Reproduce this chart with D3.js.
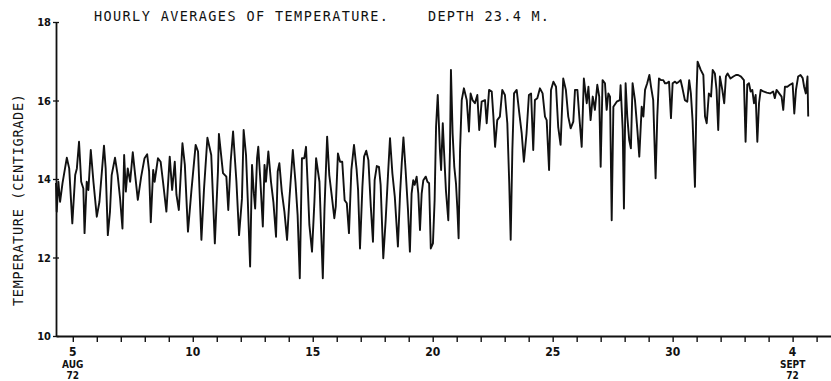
<!DOCTYPE html>
<html>
<head>
<meta charset="utf-8">
<script src="https://cdn.jsdelivr.net/npm/d3@7"></script>
<style>
  body { margin: 0; background: #fff; }
  svg text { fill: #111; }
</style>
</head>
<body>
<div id="chart"></div>
<script>
// time in days of August 1972 (Sept 4 = 35), hourly-average temperature in deg C
const hourDay = [
  4.30, 4.33, 4.40, 4.47, 4.57, 4.75, 4.85, 4.98, 5.10, 5.17, 5.26, 5.35, 5.44, 5.49, 5.58, 5.65,
  5.75, 5.86, 6.00, 6.11, 6.30, 6.37, 6.46, 6.55, 6.62, 6.76, 6.87, 6.97, 7.07, 7.14, 7.21, 7.29,
  7.39, 7.50, 7.60, 7.71, 7.85, 7.99, 8.10, 8.18, 8.25, 8.35, 8.41, 8.55, 8.66, 8.76, 8.90, 9.04,
  9.14, 9.25, 9.32, 9.42, 9.57, 9.67, 9.80, 9.94, 10.12, 10.22, 10.36, 10.47, 10.61, 10.77, 10.92, 11.05,
  11.09, 11.26, 11.40, 11.48, 11.58, 11.68, 11.82, 11.93, 12.05, 12.12, 12.22, 12.29, 12.39, 12.47, 12.54, 12.60,
  12.68, 12.73, 12.82, 12.92, 12.99, 13.05, 13.15, 13.26, 13.36, 13.47, 13.54, 13.61, 13.71, 13.82, 13.93, 14.03,
  14.17, 14.28, 14.37, 14.46, 14.55, 14.65, 14.72, 14.79, 14.86, 14.97, 15.07, 15.14, 15.28, 15.42, 15.49, 15.60,
  15.69, 15.79, 15.90, 15.96, 16.05, 16.14, 16.23, 16.33, 16.42, 16.51, 16.61, 16.72, 16.83, 16.89, 16.97, 17.07,
  17.14, 17.23, 17.32, 17.42, 17.51, 17.58, 17.67, 17.76, 17.83, 17.94, 18.04, 18.14, 18.22, 18.32, 18.42, 18.55,
  18.64, 18.71, 18.78, 18.87, 18.97, 19.05, 19.12, 19.19, 19.25, 19.33, 19.40, 19.47, 19.54, 19.61, 19.71, 19.78,
  19.85, 19.92, 20.01, 20.08, 20.14, 20.21, 20.30, 20.35, 20.42, 20.47, 20.55, 20.65, 20.72, 20.76, 20.83, 20.90,
  20.97, 21.03, 21.08, 21.14, 21.21, 21.30, 21.42, 21.51, 21.58, 21.66, 21.76, 21.86, 21.94, 22.04, 22.18, 22.25,
  22.35, 22.46, 22.53, 22.60, 22.69, 22.80, 22.90, 23.01, 23.11, 23.19, 23.25, 23.32, 23.39, 23.50, 23.61, 23.71,
  23.80, 23.91, 24.01, 24.10, 24.19, 24.26, 24.36, 24.47, 24.58, 24.68, 24.75, 24.85, 24.93, 25.03, 25.14, 25.23,
  25.33, 25.44, 25.55, 25.65, 25.75, 25.86, 25.93, 26.03, 26.11, 26.21, 26.30, 26.42, 26.49, 26.58, 26.67, 26.76,
  26.86, 26.94, 27.00, 27.08, 27.18, 27.25, 27.32, 27.39, 27.46, 27.53, 27.67, 27.80, 27.83, 27.92, 27.97, 28.04,
  28.11, 28.19, 28.26, 28.33, 28.43, 28.53, 28.61, 28.71, 28.78, 28.85, 28.94, 29.03, 29.10, 29.19, 29.29, 29.36,
  29.43, 29.51, 29.61, 29.68, 29.75, 29.85, 29.93, 30.00, 30.10, 30.17, 30.26, 30.33, 30.41, 30.51, 30.61, 30.69,
  30.76, 30.83, 30.93, 31.00, 31.04, 31.17, 31.28, 31.35, 31.42, 31.51, 31.60, 31.67, 31.76, 31.83, 31.90, 31.97,
  32.07, 32.15, 32.22, 32.29, 32.41, 32.53, 32.64, 32.73, 32.85, 32.97, 33.04, 33.11, 33.18, 33.25, 33.32, 33.39,
  33.46, 33.53, 33.60, 33.67, 33.78, 33.92, 34.06, 34.19, 34.26, 34.33, 34.44, 34.54, 34.61, 34.68, 34.78, 34.89,
  35.00, 35.07, 35.14, 35.23, 35.33, 35.42, 35.48, 35.55, 35.62, 35.65
];
const tempC = [
  13.90, 13.17, 13.93, 13.42, 13.89, 14.54, 14.27, 12.87, 14.10, 14.27, 14.95, 13.93, 13.76, 12.62, 13.93, 13.72,
  14.74, 13.93, 13.04, 13.42, 14.85, 14.27, 12.57, 13.17, 14.10, 14.54, 14.10, 13.51, 12.74, 14.61, 13.68, 14.27,
  13.93, 14.68, 14.10, 13.47, 14.06, 14.53, 14.63, 14.20, 12.90, 14.23, 13.93, 14.53, 14.44, 13.93, 13.17, 14.57,
  13.72, 14.44, 13.60, 13.21, 14.91, 14.36, 12.66, 13.68, 14.87, 14.70, 12.45, 13.76, 15.05, 14.61, 12.36, 14.20,
  15.15, 14.15, 14.06, 13.21, 14.44, 15.21, 13.93, 12.57, 13.50, 15.25, 14.61, 13.51, 11.77, 14.36, 13.68, 13.25,
  14.53, 14.82, 13.93, 12.79, 14.36, 13.93, 14.70, 13.93, 13.42, 12.53, 14.19, 14.40, 13.68, 13.17, 12.45, 13.51,
  14.74, 13.93, 13.08, 11.47, 14.53, 14.53, 14.82, 13.85, 12.83, 12.15, 13.42, 14.53, 13.93, 11.47, 13.25, 15.08,
  14.10, 13.59, 13.00, 13.30, 14.65, 14.44, 14.44, 13.46, 13.38, 12.62, 14.23, 14.87, 14.23, 13.72, 12.23, 13.80,
  14.57, 14.72, 14.48, 13.30, 12.40, 13.97, 14.33, 14.31, 13.85, 11.98, 12.96, 14.14, 15.04, 14.14, 13.55, 12.28,
  13.63, 14.40, 15.06, 14.23, 13.21, 12.15, 13.63, 13.97, 13.85, 14.06, 13.63, 12.70, 13.63, 13.97, 14.06, 13.93,
  13.89, 12.23, 12.36, 13.46, 15.33, 16.14, 14.74, 14.23, 15.42, 14.74, 13.72, 12.95, 14.74, 16.78, 15.16, 14.31,
  13.89, 13.21, 12.49, 14.74, 16.01, 16.31, 16.01, 15.21, 16.18, 16.01, 15.93, 16.14, 15.25, 15.97, 16.01, 15.42,
  16.27, 16.23, 15.59, 14.82, 15.50, 15.59, 16.27, 16.14, 15.42, 13.89, 12.45, 14.74, 16.18, 16.27, 15.67, 15.16,
  14.44, 15.16, 16.14, 16.18, 14.74, 16.01, 16.06, 16.31, 16.18, 15.59, 15.50, 14.23, 16.27, 16.48, 16.35, 15.33,
  14.87, 16.56, 16.27, 15.59, 15.29, 15.46, 16.27, 16.27, 15.59, 14.82, 16.56, 15.93, 16.35, 15.50, 16.10, 15.76,
  16.40, 16.10, 14.31, 16.52, 16.44, 15.76, 16.18, 16.10, 12.95, 15.84, 15.97, 16.01, 16.39, 15.25, 13.25, 16.44,
  15.59, 14.99, 14.78, 16.44, 16.01, 15.25, 14.57, 15.84, 15.59, 16.27, 16.44, 16.65, 16.35, 16.01, 14.02, 15.59,
  16.56, 16.52, 16.52, 16.44, 16.44, 16.48, 15.55, 16.44, 16.48, 16.44, 16.48, 16.52, 16.31, 16.01, 15.97, 16.52,
  16.18, 15.50, 13.80, 16.27, 16.99, 16.78, 16.65, 15.59, 15.42, 16.18, 16.10, 16.78, 16.69, 16.27, 15.25, 16.61,
  16.27, 15.93, 16.61, 16.69, 16.56, 16.61, 16.65, 16.65, 16.61, 16.52, 14.95, 16.40, 16.44, 16.23, 16.27, 15.93,
  16.14, 14.95, 15.93, 16.27, 16.23, 16.20, 16.18, 16.23, 16.06, 16.27, 16.18, 16.10, 15.76, 16.35, 16.35, 16.40,
  16.44, 15.67, 16.27, 16.61, 16.65, 16.57, 16.35, 16.18, 16.61, 15.59
];

const dayTicks = d3.range(5, 37);
const labelDays = [5, 10, 15, 20, 25, 30, 35];
const labelText = ["5", "10", "15", "20", "25", "30", "4"];
const labelMonth = ["AUG", "", "", "", "", "", "SEPT"];
const labelYear = ["72", "", "", "", "", "", "72"];
const tempTicks = [10, 12, 14, 16, 18];

const width = 831, height = 381;
const svg = d3.select('#chart').append('svg')
    .attr('width', width)
    .attr('height', height);

const x = d3.scaleLinear().domain([4.3, 36.6]).range([56, 831]);
const y = d3.scaleLinear().domain([10, 18]).range([336, 22]);

const ink = '#111';
const monoFont = '"DejaVu Sans Mono", monospace';
const tickFont = '"Liberation Sans Narrow", "DejaVu Sans Condensed", "Liberation Sans", sans-serif';

// x axis: day ticks hanging below the baseline
const xAxis = svg.append('g')
    .attr('transform', 'translate(0,' + y(10) + ')')
    .call(d3.axisBottom(x).tickValues(dayTicks).tickFormat('').tickSizeInner(6).tickSizeOuter(0));
xAxis.select('.domain').attr('stroke', ink).attr('stroke-width', 1.8);
xAxis.selectAll('.tick line').attr('stroke', ink).attr('stroke-width', 1.4);

// y axis with short ticks on both sides
const yAxis = svg.append('g')
    .attr('transform', 'translate(' + x(4.3) + ',0)')
    .call(d3.axisLeft(y).tickValues(tempTicks).tickFormat('').tickSizeInner(3).tickSizeOuter(0));
yAxis.select('.domain').attr('stroke', ink).attr('stroke-width', 1.8);
yAxis.selectAll('.tick line').attr('x2', -3).attr('x1', 3).attr('stroke', ink).attr('stroke-width', 1.3);

// tick labels
svg.append('g').selectAll('text')
    .data(tempTicks).enter()
    .append('text')
    .attr('x', x(4.3) - 5)
    .attr('y', d => y(d) + 4)
    .attr('text-anchor', 'end')
    .style('font-family', tickFont)
    .style('font-weight', 'bold')
    .style('font-size', '11px')
    .text(d => d);

const xl = svg.append('g').selectAll('g')
    .data(labelDays).enter()
    .append('g')
    .attr('transform', d => 'translate(' + x(d) + ',0)');
xl.append('text')
    .attr('y', 356)
    .attr('text-anchor', 'middle')
    .style('font-family', tickFont)
    .style('font-weight', 'bold')
    .style('font-size', '12px')
    .text((d, i) => labelText[i]);
xl.append('text')
    .attr('y', 367.6)
    .attr('text-anchor', 'middle')
    .style('font-family', tickFont)
    .style('font-weight', 'bold')
    .style('font-size', '10px')
    .text((d, i) => labelMonth[i]);
xl.append('text')
    .attr('y', 379)
    .attr('text-anchor', 'middle')
    .style('font-family', tickFont)
    .style('font-weight', 'bold')
    .style('font-size', '10px')
    .text((d, i) => labelYear[i]);

// titles
svg.append('text')
    .attr('x', 94).attr('y', 21)
    .attr('textLength', 294).attr('lengthAdjust', 'spacing')
    .style('font-family', monoFont)
    .style('font-size', '13.5px')
    .text('HOURLY AVERAGES OF TEMPERATURE.');
svg.append('text')
    .attr('x', 428).attr('y', 21)
    .attr('textLength', 121).attr('lengthAdjust', 'spacing')
    .style('font-family', monoFont)
    .style('font-size', '13.5px')
    .text('DEPTH 23.4 M.');
svg.append('text')
    .attr('transform', 'translate(23,200) rotate(-90)')
    .attr('text-anchor', 'middle')
    .attr('textLength', 212).attr('lengthAdjust', 'spacing')
    .style('font-family', monoFont)
    .style('font-size', '13.5px')
    .text('TEMPERATURE (CENTIGRADE)');

// the temperature trace
const line = d3.line()
    .x(i => x(hourDay[i]))
    .y(i => y(tempC[i]));
svg.append('path')
    .datum(d3.range(hourDay.length))
    .attr('d', line)
    .attr('fill', 'none')
    .attr('stroke', ink)
    .attr('stroke-width', 1.9)
    .attr('stroke-linejoin', 'round');
</script>
</body>
</html>
